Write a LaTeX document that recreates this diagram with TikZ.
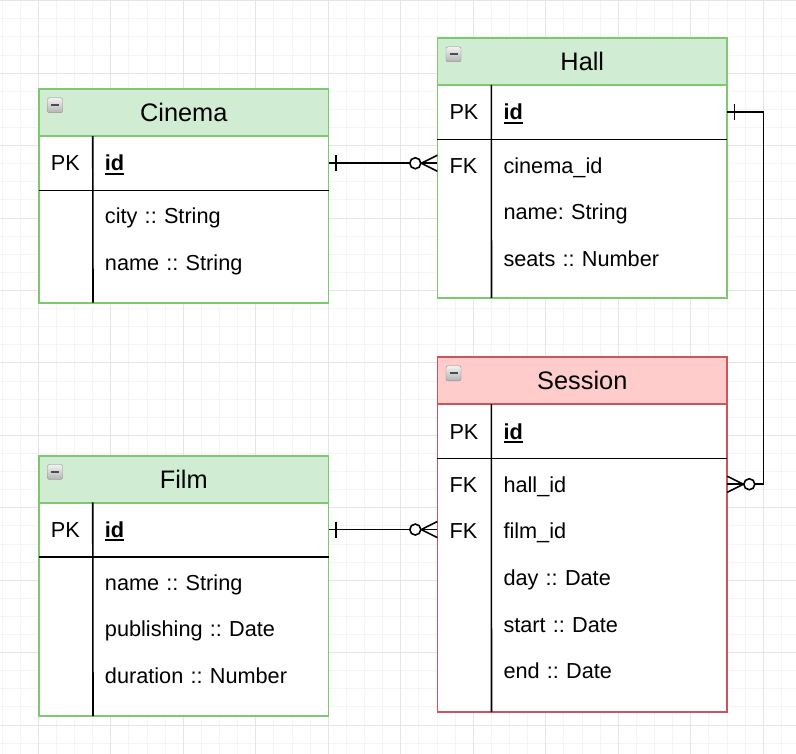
\documentclass[tikz,border=0pt]{standalone}
\usepackage{fontspec}
\setmainfont{Liberation Sans}
\frenchspacing
\usetikzlibrary{positioning}
\definecolor{entgreen}{RGB}{126,200,112}
\definecolor{headgreen}{RGB}{208,237,212}
\definecolor{entred}{RGB}{205,84,90}
\definecolor{headred}{RGB}{255,204,204}
\definecolor{gridminor}{RGB}{244,244,244}
\definecolor{gridmajor}{RGB}{229,229,229}
\newcommand{\fieldfont}{\fontsize{21.7}{26}\selectfont}
\newcommand{\titlefont}{\fontsize{25.35}{30}\selectfont}
\newcommand{\pkname}[1]{\setbox0=\hbox{\bfseries #1}\rlap{\rule[-3.6pt]{\wd0}{1.9pt}}\box0}
\tikzset{ER style/.style={
	head/.style={draw=entgreen,fill=headgreen,line width=1.8,minimum width=289.6,minimum height=46.9,inner sep=0,text height=18,text depth=0,font=\titlefont},
	body/.style={draw=entgreen,fill=white,line width=1.8},
	field/.style={text width=289.6,inner xsep=0,inner ysep=0,text height=15.5,text depth=0,align=left,font=\fieldfont,
		execute at begin node={\noindent\hspace*{66pt}}},
	pkrow/.style={field,minimum height=54},
	key/.style={anchor=west,inner sep=0,text height=15.5,text depth=0,font=\fieldfont},
	rowline/.style={line width=1.6,black},
	conn/.style={line width=1.6,black},
	togglebox/.style={draw=black!45,rounded corners=2,minimum size=15,inner sep=0,top color=black!5,bottom color=black!30,
		path picture={\draw[line width=2.2,black!70] ([xshift=-4]path picture bounding box.center) -- ([xshift=4]path picture bounding box.center);}}}}

\begin{document}
\begin{tikzpicture}[ER style,x=1pt,y=-1pt]
	\useasboundingbox (0,0) rectangle (796,754);
	
	% grid
	\foreach \k in {0,...,43} \draw[gridminor,line width=1] ({2.05+18.125*\k},0) -- ++(0,754);
	\foreach \k in {0,...,41} \draw[gridminor,line width=1] (0,{0.7+18.11*\k}) -- ++(796,0);
	\foreach \k in {0,...,10} \draw[gridmajor,line width=1] ({38.3+72.5*\k},0) -- ++(0,754);
	\foreach \k in {0,...,10} \draw[gridmajor,line width=1] (0,{0.7+72.45*\k}) -- ++(796,0);
	
	% Cinema
	\draw[body] (39,89.3) rectangle (328.5,302.7);
	\node[head] (cinema) at (183.75,112.75) {Cinema};
	\node[togglebox] (cinemaToggle) at (55,105.3) {};
	\node[pkrow] (cinemaId) at (183.75,163.25) {\pkname{id}};
	\node[key, right=12pt of cinemaId.west] (cinemaKey) {PK};
	\node[field] (cinemaCity) at (183.75,216.25) {city :: String};
	\node[field] (cinemaName) at (183.75,263) {name :: String};
	\draw[rowline] (cinemaId.south west) -- (cinemaId.south east);
	\draw[rowline] ([xshift=54]cinemaId.north west) -- (93,302.7);
	
	% Hall
	\draw[body] (437.5,38.3) rectangle (727.1,298);
	\node[head] (hall) at (582.3,61.7) {Hall};
	\node[togglebox] (hallToggle) at (453.5,54.3) {};
	\node[pkrow] (hallId) at (582.3,112.2) {\pkname{id}};
	\node[key, right=12pt of hallId.west] (hallKey) {PK};
	\node[field] (hallCinemaId) at (582.3,165.3) {cinema\_id};
	\node[key, right=12pt of hallCinemaId.west] (hallFKey) {FK};
	\node[field] (hallName) at (582.3,212.05) {name: String};
	\node[field] (hallSeats) at (582.3,258.8) {seats :: Number};
	\draw[rowline] (hallId.south west) -- (hallId.south east);
	\draw[rowline] ([xshift=54]hallId.north west) -- (491.5,298);
	
	% Session
	\draw[body,draw=entred] (437.5,357.3) rectangle (727.1,712);
	\node[head,draw=entred,fill=headred] (session) at (582.3,380.8) {Session};
	\node[togglebox] (sessionToggle) at (453.5,373.3) {};
	\node[pkrow] (sessionId) at (582.3,431.3) {\pkname{id}};
	\node[key, right=12pt of sessionId.west] (sessionKey) {PK};
	\node[field] (sessionHallId) at (582.3,484.25) {hall\_id};
	\node[key, right=12pt of sessionHallId.west] (sessionFKey1) {FK};
	\node[field] (sessionFilmId) at (582.3,531) {film\_id};
	\node[key, right=12pt of sessionFilmId.west] (sessionFKey2) {FK};
	\node[field] (sessionDay) at (582.3,577.65) {day :: Date};
	\node[field] (sessionStart) at (582.3,624.35) {start :: Date};
	\node[field] (sessionEnd) at (582.3,671.05) {end :: Date};
	\draw[rowline] (sessionId.south west) -- (sessionId.south east);
	\draw[rowline] ([xshift=54]sessionId.north west) -- (491.5,712);
	
	% Film
	\draw[body] (39,456) rectangle (328.5,716);
	\node[head] (film) at (183.75,479.4) {Film};
	\node[togglebox] (filmToggle) at (55,472) {};
	\node[pkrow] (filmId) at (183.75,529.55) {\pkname{id}};
	\node[key, right=12pt of filmId.west] (filmKey) {PK};
	\node[field] (filmName) at (183.75,582.25) {name :: String};
	\node[field] (filmPublishing) at (183.75,628.95) {publishing :: Date};
	\node[field] (filmDuration) at (183.75,675.65) {duration :: Number};
	\draw[rowline] (filmId.south west) -- (filmId.south east);
	\draw[rowline] ([xshift=54]filmId.north west) -- (93,716);
	
	% Cinema -> Hall
	\coordinate (cinemaEnd) at (cinemaId.east -| hallCinemaId.west);
	\draw[conn] (cinemaId.east) -- (cinemaEnd);
	\draw[conn] ([xshift=7]cinemaId.east) ++(0,-8) -- ++(0,16); % one
	\draw[conn] ([xshift=-16]cinemaEnd) -- ++(16,-8) ([xshift=-16]cinemaEnd) -- ++(16,8); % many
	\draw[conn,fill=white] ([xshift=-22]cinemaEnd) circle (5.5);
	
	% Film -> Session
	\coordinate (filmEnd) at (filmId.east -| sessionFilmId.west);
	\draw[conn] (filmId.east) -- (filmEnd);
	\draw[conn] ([xshift=7]filmId.east) ++(0,-8) -- ++(0,16); % one
	\draw[conn] ([xshift=-16]filmEnd) -- ++(16,-8) ([xshift=-16]filmEnd) -- ++(16,8); % many
	\draw[conn,fill=white] ([xshift=-22]filmEnd) circle (5.5);
	
	% Hall -> Session
	\draw[conn] (hallId.east) -- ++(36,0) |- (sessionHallId.east);
	\draw[conn] ([xshift=7]hallId.east) ++(0,-8) -- ++(0,16); % one
	\draw[conn] ([xshift=16]sessionHallId.east) -- ++(-16,-8) ([xshift=16]sessionHallId.east) -- ++(-16,8); % many
	\draw[conn,fill=white] ([xshift=22]sessionHallId.east) circle (5.5);
\end{tikzpicture}
\end{document}
